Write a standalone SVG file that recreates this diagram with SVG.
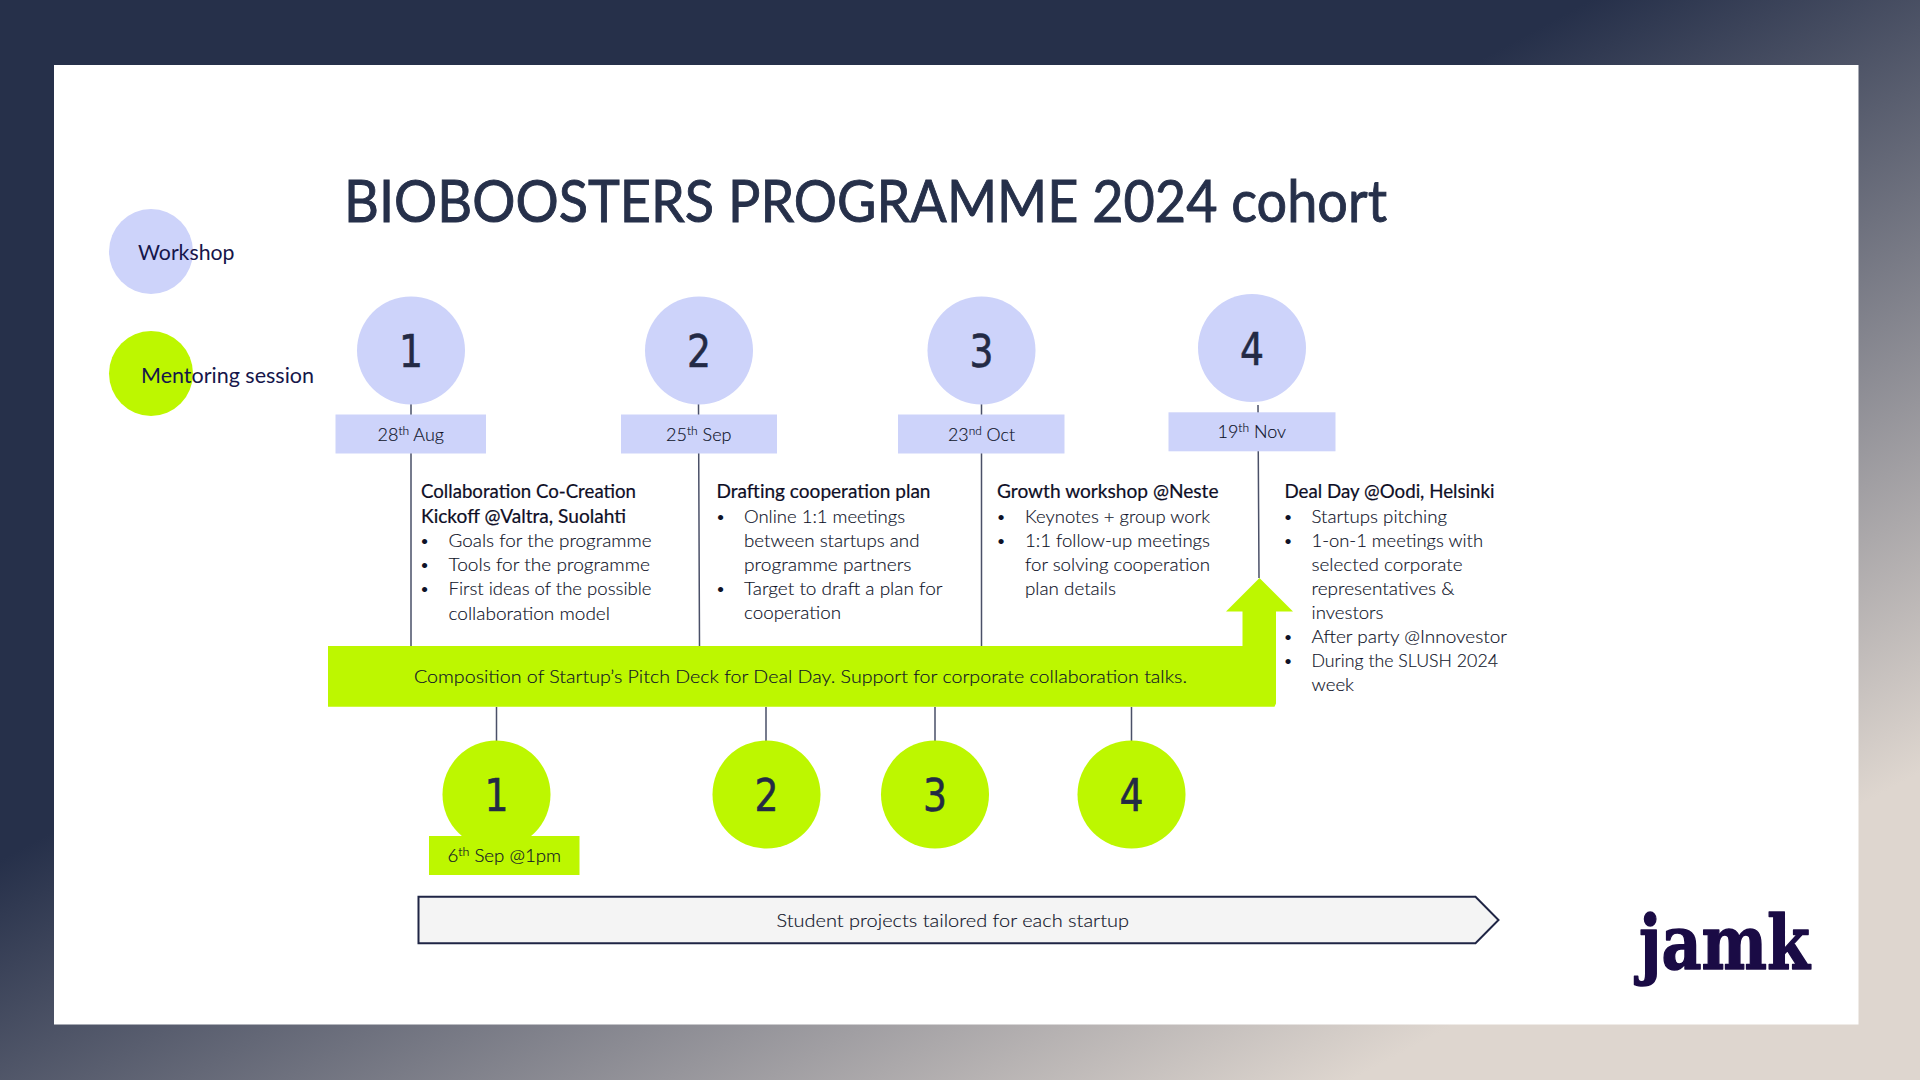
<svg xmlns="http://www.w3.org/2000/svg" width="1920" height="1080" viewBox="0 0 1920 1080">
<style>
text{font-family:Lato,"Liberation Sans",sans-serif;fill:#1f2540}
.b{font-size:18.5px;font-weight:300;fill:#0e1228;stroke:#0e1228;stroke-width:.15px}
.u{font-size:14px;fill:#0e1228}
.h{font-size:18.5px;fill:#0e0e26;stroke:#0e0e26;stroke-width:.2px}
.d{font-size:18px;font-weight:300;fill:#0e1228;stroke:#0e1228;stroke-width:.15px}
.n{font-family:"DejaVu Sans",sans-serif;font-size:44px;text-anchor:middle;fill:#232a45;stroke:#232a45;stroke-width:.6px}
.s{font-size:12px}
.w{fill:#cdd3fa}
.g{fill:#bdf700}
.l{stroke:#4a5068;stroke-width:1.5;fill:none}
</style>
<defs>
<linearGradient id="bg" gradientUnits="userSpaceOnUse" x1="0" y1="860" x2="398" y2="1596">
<stop offset="0" stop-color="#26304a"/><stop offset="1" stop-color="#ded6cf"/>
</linearGradient>
</defs>
<rect width="1920" height="1080" fill="url(#bg)"/>
<rect x="54" y="65" width="1804.500" height="959.500" fill="#fff"/>
<text id="title" x="344" y="222" font-size="59" style="fill:#26304a" stroke="#26304a" stroke-width=".9" textLength="1043" lengthAdjust="spacingAndGlyphs">BIOBOOSTERS PROGRAMME 2024 cohort</text>

<g id="connectors">
<path class="l" d="M411 404V646M698.500 404L699.500 646M981.500 404V646M1258 405L1259 578M496.500 707V741M766 707V741M935 707V741M1131.500 707V741"/>
</g>

<g id="legend-workshop"><ellipse class="w" cx="151" cy="251.500" rx="42" ry="42.500"/><text x="138" y="260" font-size="21" style="fill:#16164a" textLength="96.500" lengthAdjust="spacingAndGlyphs">Workshop</text></g>
<g id="legend-mentoring"><ellipse class="g" cx="151" cy="373.500" rx="42" ry="42.500"/><text x="141" y="383" font-size="21" style="fill:#16164a" textLength="173" lengthAdjust="spacingAndGlyphs">Mentoring session</text></g>

<g id="workshop-1"><circle class="w" cx="411" cy="350.500" r="54"/><text class="n" x="411" y="367" textLength="24" lengthAdjust="spacingAndGlyphs">1</text><rect class="w" x="335.500" y="414.500" width="150.500" height="39"/><text class="d" x="377.500" y="440.500" textLength="66.500" lengthAdjust="spacingAndGlyphs">28<tspan class="s" dy="-6">th</tspan><tspan dy="6"> Aug</tspan></text></g>
<g id="workshop-2"><circle class="w" cx="699" cy="350.500" r="54"/><text class="n" x="699" y="367" textLength="24" lengthAdjust="spacingAndGlyphs">2</text><rect class="w" x="621" y="414.500" width="156" height="39"/><text class="d" x="666" y="440.500" textLength="65.500" lengthAdjust="spacingAndGlyphs">25<tspan class="s" dy="-6">th</tspan><tspan dy="6"> Sep</tspan></text></g>
<g id="workshop-3"><circle class="w" cx="981.500" cy="350.500" r="54"/><text class="n" x="981.500" y="367" textLength="24" lengthAdjust="spacingAndGlyphs">3</text><rect class="w" x="898" y="414.500" width="166.500" height="39"/><text class="d" x="948" y="440.500" textLength="67" lengthAdjust="spacingAndGlyphs">23<tspan class="s" dy="-6">nd</tspan><tspan dy="6"> Oct</tspan></text></g>
<g id="workshop-4"><circle class="w" cx="1252" cy="348" r="54"/><text class="n" x="1252" y="365" textLength="24" lengthAdjust="spacingAndGlyphs">4</text><rect class="w" x="1168.500" y="412.300" width="167" height="39"/><text class="d" x="1217.500" y="438" textLength="68.500" lengthAdjust="spacingAndGlyphs">19<tspan class="s" dy="-6">th</tspan><tspan dy="6"> Nov</tspan></text></g>

<g id="text-1">
<text class="h" x="421" y="498" textLength="215" lengthAdjust="spacingAndGlyphs">Collaboration Co-Creation</text>
<text class="h" x="421" y="523" textLength="205" lengthAdjust="spacingAndGlyphs">Kickoff @Valtra, Suolahti</text>
<text class="u" x="420.500" y="546">•</text><text class="b" x="448.500" y="547" textLength="203" lengthAdjust="spacingAndGlyphs">Goals for the programme</text>
<text class="u" x="420.500" y="570">•</text><text class="b" x="448.500" y="571" textLength="201.500" lengthAdjust="spacingAndGlyphs">Tools for the programme</text>
<text class="u" x="420.500" y="594">•</text><text class="b" x="448.500" y="595" textLength="203" lengthAdjust="spacingAndGlyphs">First ideas of the possible</text>
<text class="b" x="448.500" y="619.500" textLength="161.500" lengthAdjust="spacingAndGlyphs">collaboration model</text>
</g>
<g id="text-2">
<text class="h" x="716.500" y="498" textLength="214" lengthAdjust="spacingAndGlyphs">Drafting cooperation plan</text>
<text class="u" x="716.500" y="522">•</text><text class="b" x="744" y="523" textLength="161" lengthAdjust="spacingAndGlyphs">Online 1:1 meetings</text>
<text class="b" x="744" y="547" textLength="175.500" lengthAdjust="spacingAndGlyphs">between startups and</text>
<text class="b" x="744" y="571" textLength="167.500" lengthAdjust="spacingAndGlyphs">programme partners</text>
<text class="u" x="716.500" y="594">•</text><text class="b" x="744" y="595" textLength="198.500" lengthAdjust="spacingAndGlyphs">Target to draft a plan for</text>
<text class="b" x="744" y="619" textLength="97" lengthAdjust="spacingAndGlyphs">cooperation</text>
</g>
<g id="text-3">
<text class="h" x="997" y="498" textLength="221.500" lengthAdjust="spacingAndGlyphs">Growth workshop @Neste</text>
<text class="u" x="997" y="522">•</text><text class="b" x="1025" y="523" textLength="185" lengthAdjust="spacingAndGlyphs">Keynotes + group work</text>
<text class="u" x="997" y="546">•</text><text class="b" x="1025" y="547" textLength="185" lengthAdjust="spacingAndGlyphs">1:1 follow-up meetings</text>
<text class="b" x="1025" y="571" textLength="185" lengthAdjust="spacingAndGlyphs">for solving cooperation</text>
<text class="b" x="1025" y="595" textLength="91" lengthAdjust="spacingAndGlyphs">plan details</text>
</g>
<g id="text-4">
<text class="h" x="1284.500" y="498" textLength="210" lengthAdjust="spacingAndGlyphs">Deal Day @Oodi, Helsinki</text>
<text class="u" x="1284" y="522">•</text><text class="b" x="1311.500" y="523" textLength="135.500" lengthAdjust="spacingAndGlyphs">Startups pitching</text>
<text class="u" x="1284" y="546">•</text><text class="b" x="1311.500" y="547" textLength="171.500" lengthAdjust="spacingAndGlyphs">1-on-1 meetings with</text>
<text class="b" x="1311.500" y="571" textLength="151" lengthAdjust="spacingAndGlyphs">selected corporate</text>
<text class="b" x="1311.500" y="595" textLength="143" lengthAdjust="spacingAndGlyphs">representatives &amp;</text>
<text class="b" x="1311.500" y="619" textLength="72" lengthAdjust="spacingAndGlyphs">investors</text>
<text class="u" x="1284" y="642">•</text><text class="b" x="1311.500" y="643" textLength="195.500" lengthAdjust="spacingAndGlyphs">After party @Innovestor</text>
<text class="u" x="1284" y="666">•</text><text class="b" x="1311.500" y="667" textLength="186.500" lengthAdjust="spacingAndGlyphs">During the SLUSH 2024</text>
<text class="b" x="1311.500" y="691" textLength="42.500" lengthAdjust="spacingAndGlyphs">week</text>
</g>

<g id="pitch-arrow">
<path class="g" d="M328 646H1242.500V611.500H1226L1259.500 578L1293 611.500H1276V703.500L1274.500 706.700H328Z"/>
<text class="b" x="414" y="683" textLength="773" lengthAdjust="spacingAndGlyphs">Composition of Startup’s Pitch Deck for Deal Day. Support for corporate collaboration talks.</text>
</g>

<g id="mentoring-1"><circle class="g" cx="496.500" cy="794.500" r="54"/><text class="n" x="496.500" y="811" textLength="24" lengthAdjust="spacingAndGlyphs">1</text><rect class="g" x="429" y="836" width="150.500" height="39"/><text class="d" x="447.500" y="861.500" textLength="113.500" lengthAdjust="spacingAndGlyphs">6<tspan class="s" dy="-6">th</tspan><tspan dy="6"> Sep @1pm</tspan></text></g>
<g id="mentoring-2"><circle class="g" cx="766.500" cy="794.500" r="54"/><text class="n" x="766.500" y="811" textLength="24" lengthAdjust="spacingAndGlyphs">2</text></g>
<g id="mentoring-3"><circle class="g" cx="935" cy="794.500" r="54"/><text class="n" x="935" y="811" textLength="24" lengthAdjust="spacingAndGlyphs">3</text></g>
<g id="mentoring-4"><circle class="g" cx="1131.500" cy="794.500" r="54"/><text class="n" x="1131.500" y="811" textLength="24" lengthAdjust="spacingAndGlyphs">4</text></g>

<g id="student-projects">
<path d="M418.500 896.800H1475.500L1498.500 920L1475.500 943.200H418.500Z" fill="#f4f4f4" stroke="#1f2545" stroke-width="2"/>
<text class="b" x="776.500" y="927" textLength="352.500" lengthAdjust="spacingAndGlyphs">Student projects tailored for each startup</text>
</g>

<text id="logo" x="1639" y="969" font-size="74" font-weight="700" style="font-family:'DejaVu Serif',serif;fill:#1a0b45" stroke="#1a0b45" stroke-width="1.5" stroke-linejoin="round" textLength="171" lengthAdjust="spacingAndGlyphs">jamk</text>
</svg>
